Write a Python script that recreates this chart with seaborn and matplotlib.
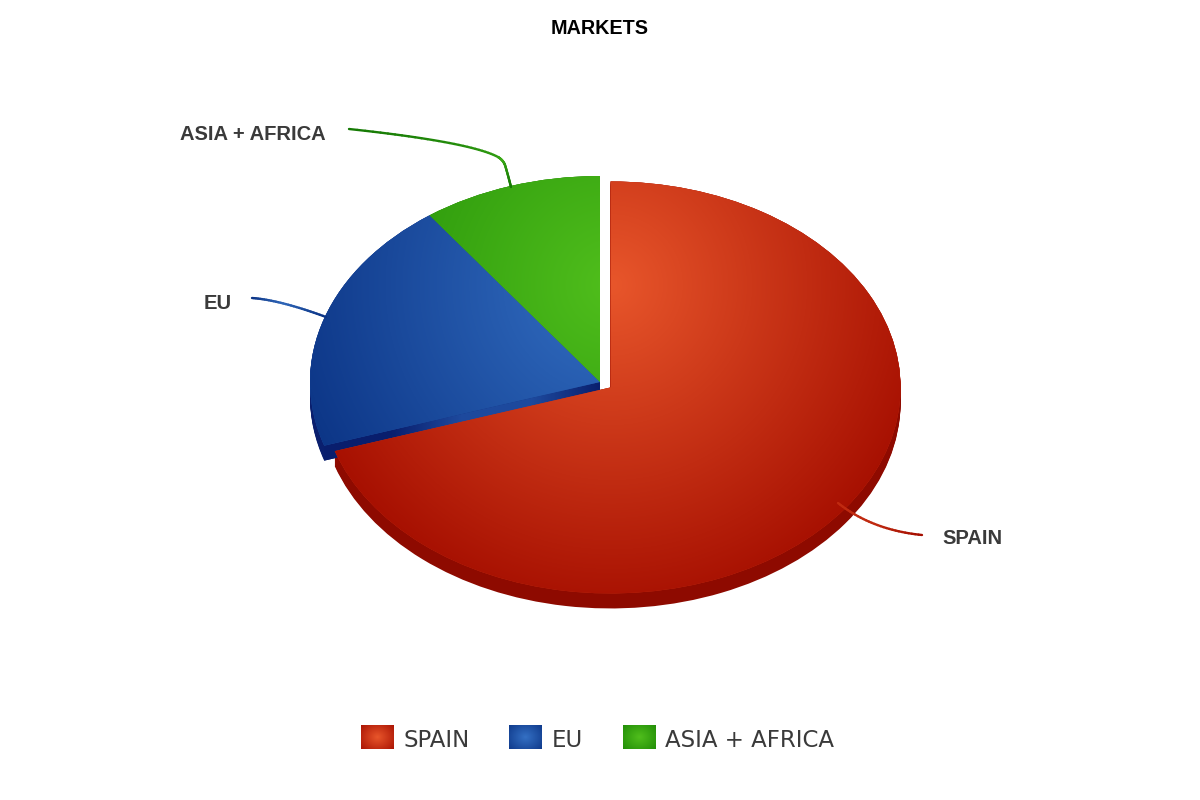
import numpy as np
import pandas as pd
import matplotlib
matplotlib.use("Agg")
import matplotlib.pyplot as plt
import seaborn as sns
from matplotlib.colors import LinearSegmentedColormap
from matplotlib.collections import LineCollection
from matplotlib.image import BboxImage
from matplotlib.legend_handler import HandlerPatch
from matplotlib.patches import Patch, Polygon
from matplotlib.transforms import Bbox, TransformedBbox

categories = ["SPAIN", "EU", "ASIA + AFRICA"]
values = [70, 20, 10]
explode = [0.045, 0, 0]
title = "MARKETS"

light = ["#E8562B", "#3470C4", "#50BE1C"]
dark = ["#A50E00", "#0C3586", "#1E8A06"]
rim = ["#8E0A00", "#0A1F6E", "#156A04"]
line_mid = ["#C02A10", "#2F66B8", "#3FAE18"]
line_end = ["#A50E00", "#0C3586", "#157A04"]
text_colour = "#3A3A3A"

sns.set_theme(style="white")
df = pd.DataFrame({"market": categories, "share": values})
palette = sns.blend_palette([light[0], dark[0]], 3)[1:2] + \
    sns.blend_palette([light[1], dark[1]], 3)[1:2] + \
    sns.blend_palette([light[2], dark[2]], 3)[1:2]

W, H = 1200, 800
CX, CY, RX, RY = 600, 382, 290, 206
DEPTH = 15 / RY


def dx(px):
    return (np.asarray(px, float) - CX) / RX


def dy(py):
    return (CY - np.asarray(py, float)) / RY


fig = plt.figure(figsize=(12, 8), dpi=100)
ax = fig.add_axes([0, 0, 1, 1])
limits = (float(dx(0)), float(dx(W)), float(dy(H)), float(dy(0)))

# side walls: a stack of dark pies, shifted downwards
for d in np.linspace(DEPTH, 0, 16):
    side, _ = ax.pie(df["share"], explode=explode, startangle=90, counterclock=False,
                     colors=rim, center=(0, -d), radius=1, frame=False)
    for w in side:
        w.set_zorder(1)
        w.set_linewidth(0)

# top surfaces
tops, _ = ax.pie(df["share"], explode=explode, startangle=90, counterclock=False,
                 colors=palette, radius=1, frame=False)
for w in tops:
    w.set_linewidth(0)
    w.set_zorder(3)

# radial shading of every slice
gx, gy = np.meshgrid(np.arange(W) + 0.5, np.arange(H) + 0.5)
t = np.clip(np.hypot(gx - 612, gy - 285) / 335, 0, 1)
for i, w in enumerate(tops):
    cmap = LinearSegmentedColormap.from_list(f"g{i}", [light[i], dark[i]])
    im = ax.imshow(cmap(t), extent=limits, origin="upper", aspect="auto",
                   zorder=3 + (i == 0), interpolation="bilinear")
    im.set_clip_path(w)

# lit cut face of the EU slice
angle = np.deg2rad(90 - 360 * values[0] / sum(values))
ex, ey = np.cos(angle), np.sin(angle)
face = Polygon([(0, 0), (ex, ey), (ex, ey - DEPTH), (0, -DEPTH)], closed=True,
               transform=ax.transData, facecolor="none", edgecolor="none")
ax.add_patch(face)
u = np.clip((gx - 324) / 276, 0, 1)
cm_face = LinearSegmentedColormap.from_list("face", ["#0A1F6E", "#0A1F6E", "#1E4A9E", "#1E4A9E", "#0A1F6E"])
im = ax.imshow(cm_face(u), extent=limits, origin="upper", aspect="auto", zorder=2)
im.set_clip_path(face)


# leader lines
def leader(segments, colours, lw=1.7):
    pts = []
    for p0, c, p1 in segments:
        s = np.linspace(0, 1, 30)[:, None]
        p0, c, p1 = map(np.asarray, (p0, c, p1))
        pts.append((1 - s) ** 2 * p0 + 2 * s * (1 - s) * c + s ** 2 * p1)
    pts = np.vstack(pts)
    xy = np.column_stack([dx(pts[:, 0]), dy(pts[:, 1])])
    segs = np.stack([xy[:-1], xy[1:]], axis=1)
    f = np.linspace(0, 1, len(segs))
    cmap = LinearSegmentedColormap.from_list("l", colours)
    ax.add_collection(LineCollection(segs, colors=cmap(f), linewidths=lw, zorder=6,
                                     capstyle="round"))


leader([((838, 503), (872, 530), (922, 535))], [line_mid[0], line_mid[0], line_end[0]])
leader([((252, 298), (280, 300), (326, 317))], [line_end[1], line_mid[1], line_end[1]])
leader([((349, 129), (470, 142), (498, 157)),
        ((498, 157), (503, 160), (505, 165)),
        ((505, 165), (508, 175), (511, 187))],
       [line_end[2], line_mid[2], line_end[2]])

# labels
label_font = dict(family="Liberation Sans", fontweight="bold", fontsize=14.5,
                  color=text_colour, va="center", ha="left", zorder=7)
ax.text(dx(942), dy(538.5), categories[0], **label_font)
ax.text(dx(204), dy(303.5), categories[1], **label_font)
ax.text(dx(180), dy(135), categories[2], **label_font)
ax.text(dx(599.5), dy(29), title, family="Liberation Sans", fontweight="bold",
        fontsize=14.2, color="black", ha="center", va="center", zorder=7)


# legend with shaded swatches
class SwatchHandler(HandlerPatch):
    def create_artists(self, legend, orig, xd, yd, width, height, fontsize, trans):
        i = orig.get_label_index
        cmap = LinearSegmentedColormap.from_list("s", [light[i], dark[i]])
        sy, sx = np.mgrid[-1:1:48j, -1:1:64j]
        r = np.clip(np.hypot(sx, sy * 0.85) / 1.45, 0, 1)
        bbox = TransformedBbox(Bbox.from_bounds(-xd, -yd + 0.5, width, height + 1.5), trans)
        img = BboxImage(bbox, interpolation="bilinear")
        img.set_data(cmap(r))
        return [img]


handles = []
for i, name in enumerate(categories):
    h = Patch(facecolor=light[i], label=name)
    h.get_label_index = i
    handles.append(h)

ax.legend(handles=handles, ncol=3, loc="center", bbox_to_anchor=(597.5 / W, 1 - 740 / H),
          bbox_transform=fig.transFigure, frameon=False,
          prop={"family": "DejaVu Sans", "size": 16.5}, labelcolor=text_colour,
          handlelength=1.4, handleheight=1.05, handletextpad=0.44, columnspacing=1.75,
          handler_map={Patch: SwatchHandler()})

ax.set_aspect("auto")
ax.set_xlim(limits[0], limits[1])
ax.set_ylim(limits[2], limits[3])
ax.set_axis_off()
fig.savefig("out.png", dpi=100, facecolor="white")
